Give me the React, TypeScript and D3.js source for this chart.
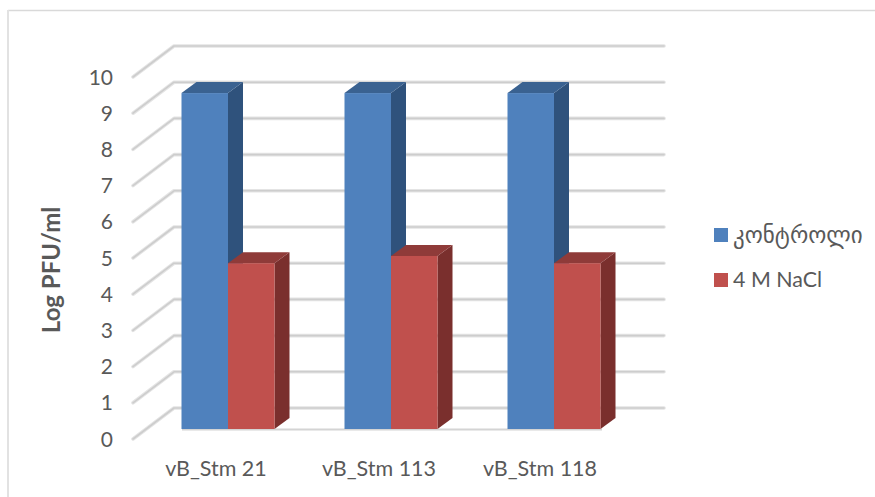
import * as d3 from "d3";

const categories = ["vB_Stm 21", "vB_Stm 113", "vB_Stm 118"];
const control = [9.28, 9.28, 9.28];
const salt = [4.58, 4.78, 4.58];
const seriesNames = ["კონტროლი", "4 M NaCl"];
const yTicks = [0, 1, 2, 3, 4, 5, 6, 7, 8, 9, 10];

const FONT = "Lato, 'Open Sans', sans-serif";
const TEXT = "#595959";
const BLUE = { front: "#4f81bd", side: "#2f527c", top: "#3a6291" };
const RED = { front: "#c0504d", side: "#7a2f2d", top: "#8f3b39" };

const DEPTH_X = 41; // how far the back wall sits from the front of the floor
const BAR_DX = 15;
const BAR_DY = 11;

// front edge of the floor, y
const yFront = d3.scaleLinear().domain([0, 10]).range([439, 77]);
const yBack = d3.scaleLinear().domain([0, 10]).range([408, 46]);
const yBar = d3.scaleLinear().domain([0, 10]).range([429, 67]);

const xCat = d3.scaleBand().domain(categories).range([133, 622]);
const labelCenters = [216, 379, 540];

const App = () => {
  const bw = 46.5;

  const bar = (x: number, v: number, c: typeof BLUE, key: string) => {
    const top = yBar(v);
    const base = yBar(0);
    return (
      <g key={key}>
        <polygon
          points={`${x + bw},${top} ${x + bw + BAR_DX},${top - BAR_DY} ${x + bw + BAR_DX},${base - BAR_DY} ${x + bw},${base}`}
          fill={c.side}
        />
        <polygon
          points={`${x},${top} ${x + BAR_DX},${top - BAR_DY} ${x + bw + BAR_DX},${top - BAR_DY} ${x + bw},${top}`}
          fill={c.top}
        />
        <rect x={x} y={top} width={bw} height={base - top} fill={c.front} />
      </g>
    );
  };

  return (
    <svg
      width={875}
      height={497}
      style={{ position: "absolute", left: 0, top: 0, background: "#fff" }}
    >
      <path d="M875,10.5 H8" fill="none" stroke="#d9d9d9" strokeWidth={1.5} />
      <path d="M8,10 V497" fill="none" stroke="#e2e2e2" strokeWidth={2} />

      {yTicks.map((t) => {
        const pts = `133,${yFront(t)} ${133 + DEPTH_X},${yBack(t)} 664,${yBack(t)}`;
        return (
          <g key={t}>
            <polyline
              points={pts}
              fill="none"
              stroke="#e4e4e4"
              strokeWidth={3.6}
              strokeLinecap="round"
              strokeLinejoin="round"
            />
            <polyline
              points={pts}
              fill="none"
              stroke="#cdcdcd"
              strokeWidth={1.6}
              strokeLinecap="round"
              strokeLinejoin="round"
            />
            <text
              x={113}
              y={yFront(t) + 7.5}
              textAnchor="end"
              fontFamily={FONT}
              fontSize={21}
              fill={TEXT}
            >
              {t}
            </text>
          </g>
        );
      })}

      <line x1={182} x2={602} y1={yBar(0) + 0.5} y2={yBar(0) + 0.5} stroke="#d4d4d4" strokeWidth={2} />

      {categories.map((c, i) => {
        const cx = xCat(c)! + xCat.bandwidth() / 2 + 13.5;
        return (
          <g key={c}>
            {bar(cx - bw, control[i], BLUE, "a")}
            {bar(cx, salt[i], RED, "b")}
            <text
              x={labelCenters[i]}
              y={476}
              textAnchor="middle"
              fontFamily={FONT}
              fontSize={21.5}
              fill={TEXT}
            >
              {c}
            </text>
          </g>
        );
      })}

      <text
        transform="translate(60,270) rotate(-90)"
        textAnchor="middle"
        fontFamily={FONT}
        fontSize={24}
        fontWeight={700}
        fill={TEXT}
      >
        Log PFU/ml
      </text>

      <rect x={714} y={228} width={14} height={14} fill={BLUE.front} />
      <text x={733} y={243} fontFamily="'DejaVu Sans', sans-serif" fontSize={23} fill={TEXT}>
        {seriesNames[0]}
      </text>
      <rect x={714} y={273} width={14} height={14} fill={RED.front} />
      <text x={733} y={287} fontFamily={FONT} fontSize={21.4} fill={TEXT}>
        {seriesNames[1]}
      </text>
    </svg>
  );
};

export default App;
